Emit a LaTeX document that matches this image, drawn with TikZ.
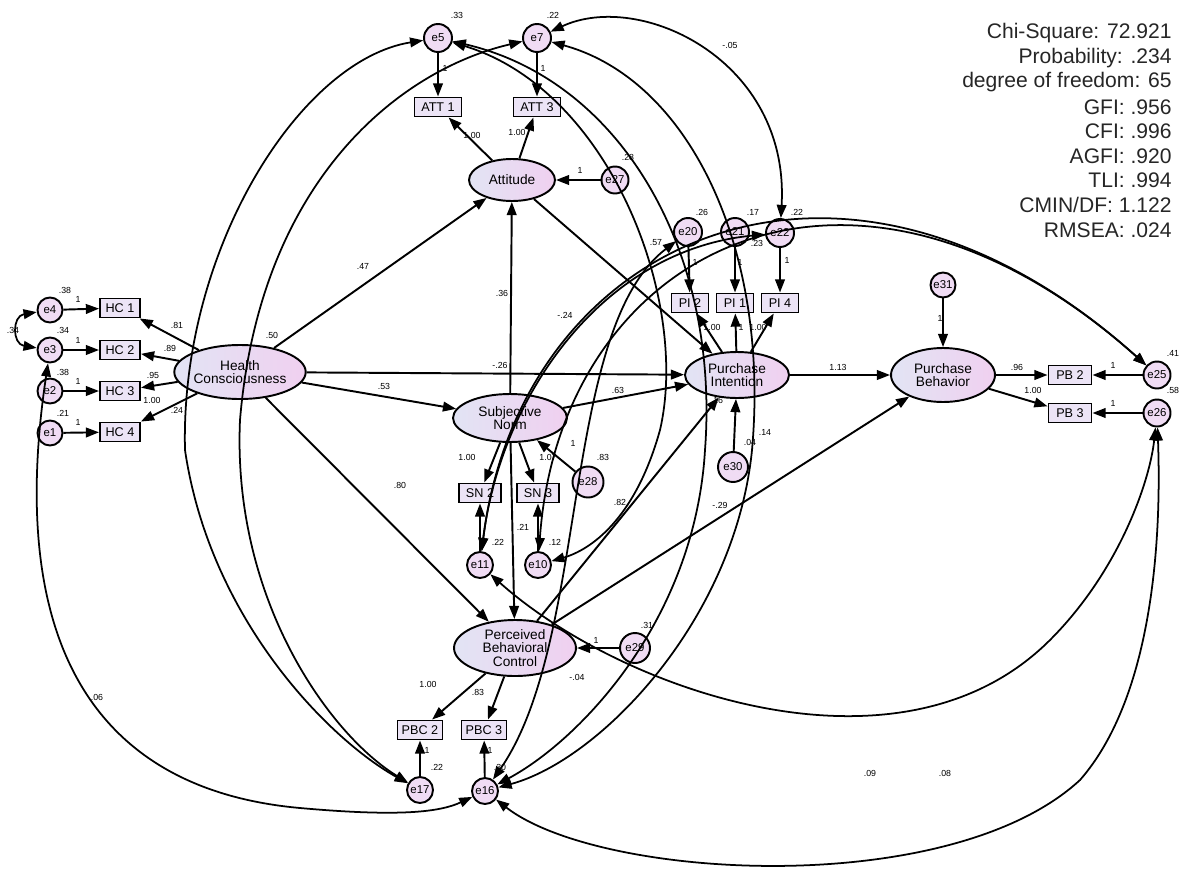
\documentclass[tikz,border=0pt]{standalone}
\usepackage{fontspec}
\setmainfont{Liberation Sans}
\usetikzlibrary{arrows.meta,shapes.geometric}
\definecolor{latL}{RGB}{226,228,244}
\definecolor{latR}{RGB}{240,208,240}
\definecolor{obsF}{RGB}{236,228,246}
\definecolor{errF}{RGB}{240,220,244}
\begin{document}
\begin{tikzpicture}[x=0.02cm,y=-0.02cm,
 lat/.style={ellipse, draw, line width=1.1pt, left color=latL, right color=latR, inner sep=0pt, align=center, font=\fontsize{7.8}{7.8}\selectfont},
 obs/.style={rectangle, draw, line width=1.1pt, fill=obsF, inner xsep=2pt, inner ysep=0pt, minimum height=0.38cm, font=\fontsize{7.2}{8}\selectfont},
 err/.style={circle, draw, line width=1.1pt, fill=errF, inner sep=0pt, minimum size=0.5cm, font=\fontsize{6.5}{7}\selectfont},
 arr/.style={-{Triangle[length=7.5pt,width=5.5pt]}, line width=1.1pt},
 cov/.style={{Triangle[length=7.5pt,width=5.5pt]}-{Triangle[length=7.5pt,width=5.5pt]}, line width=1pt},
 lab/.style={font=\fontsize{5}{6}\selectfont, inner sep=0pt},
 stat/.style={font=\fontsize{12}{14}\selectfont, anchor=east, inner sep=0pt, text=black!85}]
\useasboundingbox (0,0) rectangle (1179,872);

% ---------- nodes ----------
\node[err] (e4) at (50,310) {e4};
\node[err] (e3) at (50,350) {e3};
\node[err] (e2) at (50,391) {e2};
\node[err] (e1) at (50,433) {e1};
\node[obs, minimum width=0.8cm] (hc1) at (120,308) {HC 1};
\node[obs, minimum width=0.8cm] (hc2) at (120,350) {HC 2};
\node[obs, minimum width=0.8cm] (hc3) at (120,391) {HC 3};
\node[obs, minimum width=0.8cm] (hc4) at (120,432) {HC 4};
\node[lat, minimum width=2.28cm, minimum height=1.08cm] (hc) at (240,372) {Health\\Consciousness};

\node[err, minimum size=0.56cm] (e5) at (438,38) {e5};
\node[err, minimum size=0.56cm] (e7) at (537,38) {e7};
\node[obs, minimum width=0.94cm] (att1) at (438,107) {ATT 1};
\node[obs, minimum width=0.94cm] (att3) at (537,107) {ATT 3};
\node[lat, minimum width=1.72cm, minimum height=0.84cm] (att) at (512,180) {Attitude};
\node[err, minimum size=0.54cm] (e27) at (615,180) {e27};

\node[lat, minimum width=2.28cm, minimum height=0.96cm] (sn) at (510,418) {Subjective\\Norm};
\node[obs, minimum width=0.84cm] (sn2) at (480,493) {SN 2};
\node[obs, minimum width=0.84cm] (sn3) at (538,493) {SN 3};
\node[err, minimum size=0.62cm] (e28) at (588,482) {e28};
\node[err, minimum size=0.52cm] (e11) at (480,565) {e11};
\node[err, minimum size=0.52cm] (e10) at (538,565) {e10};

\node[lat, minimum width=2.44cm, minimum height=1.12cm] (pbc) at (515,648) {Perceived\\Behavioral\\Control};
\node[err, minimum size=0.6cm] (e29) at (635,648) {e29};
\node[obs, minimum width=0.9cm] (pbc2) at (420,730) {PBC 2};
\node[obs, minimum width=0.9cm] (pbc3) at (484,730) {PBC 3};
\node[err, minimum size=0.52cm] (e17) at (420,790) {e17};
\node[err, minimum size=0.52cm] (e16) at (485,791) {e16};

\node[err, minimum size=0.56cm] (e20) at (688,232) {e20};
\node[err, minimum size=0.56cm] (e21) at (735,232) {e21};
\node[err, minimum size=0.56cm] (e22) at (780,233) {e22};
\node[obs, minimum width=0.74cm] (pi2) at (690,303) {PI 2};
\node[obs, minimum width=0.74cm] (pi1) at (735,303) {PI 1};
\node[obs, minimum width=0.74cm] (pi4) at (780,303) {PI 4};
\node[lat, minimum width=2.08cm, minimum height=0.92cm] (pi) at (737,375) {Purchase\\Intention};
\node[err, minimum size=0.6cm] (e30) at (733,467) {e30};

\node[lat, minimum width=2.08cm, minimum height=1.08cm] (pb) at (943,375) {Purchase\\Behavior};
\node[err] (e31) at (943,285) {e31};
\node[obs, minimum width=0.86cm] (pb2) at (1070,375) {PB 2};
\node[obs, minimum width=0.86cm] (pb3) at (1070,413) {PB 3};
\node[err, minimum size=0.54cm] (e25) at (1157,375) {e25};
\node[err, minimum size=0.54cm] (e26) at (1157,413) {e26};

% ---------- regression paths ----------
\foreach \a/\b in {e4/hc1,e3/hc2,e2/hc3,e1/hc4,hc/hc1,hc/hc2,hc/hc3,hc/hc4,
  hc/att,hc/sn,hc/pbc,hc/pi,att/att1,att/att3,e5/att1,e7/att3,e27/att,
  sn/att,sn/pbc,att/pi,sn/pi,pbc/pi,pbc/pb,pi/pb,
  pi/pi2,pi/pi1,pi/pi4,e20/pi2,e21/pi1,e22/pi4,e30/pi,e31/pb,
  pb/pb2,pb/pb3,e25/pb2,e26/pb3,sn/sn2,sn/sn3,e11/sn2,e10/sn3,e28/sn,
  pbc/pbc2,pbc/pbc3,e17/pbc2,e16/pbc3,e29/pbc}
  \draw[arr] (\a) -- (\b);

% ---------- covariances ----------
\draw[cov] (e4) .. controls (12,316) and (12,344) .. (e3);
\draw[cov] (e3) .. controls (5,650) and (100,790) .. (300,808) .. controls (400,817) and (440,812) .. (e16);
\draw[cov] (e5) .. controls (300,60) and (180,250) .. (185,450) .. controls (210,620) and (330,740) .. (e17);
\draw[cov] (e7) .. controls (400,70) and (260,180) .. (240,420) .. controls (232,600) and (330,735) .. (e17);
\draw[cov] (e7) .. controls (640,-10) and (790,60) .. (e22);
\draw[cov] (e5) .. controls (620,80) and (720,250) .. (705,450) .. controls (695,620) and (580,740) .. (e16);
\draw[cov] (e7) .. controls (690,80) and (770,250) .. (752,450) .. controls (735,620) and (600,760) .. (e16);
\draw[cov] (e5) .. controls (610,90) and (690,300) .. (660,430) .. controls (635,520) and (590,550) .. (e10);
\draw[cov] (e20) .. controls (560,330) and (590,640) .. (e16);
\draw[cov] (e11) .. controls (500,400) and (600,250) .. (e22);
\draw[cov] (e10) .. controls (560,250) and (850,100) .. (e25);
\draw[cov] (e11) .. controls (520,240) and (840,90) .. (e25);
\draw[cov] (e11) .. controls (620,690) and (900,790) .. (1050,640) .. controls (1120,570) and (1150,480) .. (e26);
\draw[cov] (e16) .. controls (600,880) and (950,900) .. (1080,780) .. controls (1150,700) and (1162,550) .. (e26);

% ---------- labels ----------
\foreach \t/\x/\y in {.38/65/290,.34/63/330,.38/63/372,.21/63/413,1/78/299,1/78/340,1/78/381,1/78/422,.34/13/330,
  .81/177/325,.89/170/348,.95/153/375,1.00/152/400,.24/177/410,.50/272/335,
  .47/363/266,.53/384/386,.80/400/485,-.26/500/365,.36/502/293,-.24/565/315,.57/656/243,.63/618/390,.82/620/502,-.29/720/505,1.13/838/367,
  .33/457/15,.22/553/15,1/445/68,1/543/68,1.00/472/135,1.00/517/132,.28/628/157,1/580/170,-.05/730/45,
  .26/702/212,.17/753/212,.22/797/212,.23/757/243,1/695/262,1/740/262,1/787/260,1.00/712/327,1/741/327,1.00/758/327,
  .16/717/400,.04/750/442,.14/765/432,
  1.00/467/457,1.07/548/457,.83/603/457,1/573/443,.22/498/542,.12/555/542,.21/523/527,
  1.00/428/684,.83/478/692,.22/437/767,.30/500/767,1/427/750,1/490/750,1/596/640,.31/647/625,-.04/577/677,
  1/940/318,.96/1017/367,1.00/1033/390,1/1113/365,1/1113/403,.41/1173/353,.58/1173/390,
  .06/97/697,.09/870/773,.08/945/773}
  \node[lab] at (\x,\y) {\t};

% ---------- fit statistics ----------
\foreach \t [count=\i from 0] in {Chi-Square: 72.921,Probability: .234,degree of freedom: 65,GFI: .956,CFI: .996,AGFI: .920,TLI: .994,CMIN/DF: 1.122,RMSEA: .024}
  \node[stat] (s\i) at (1172,{33+24.6*\i}) {\t};
\end{tikzpicture}
\end{document}
